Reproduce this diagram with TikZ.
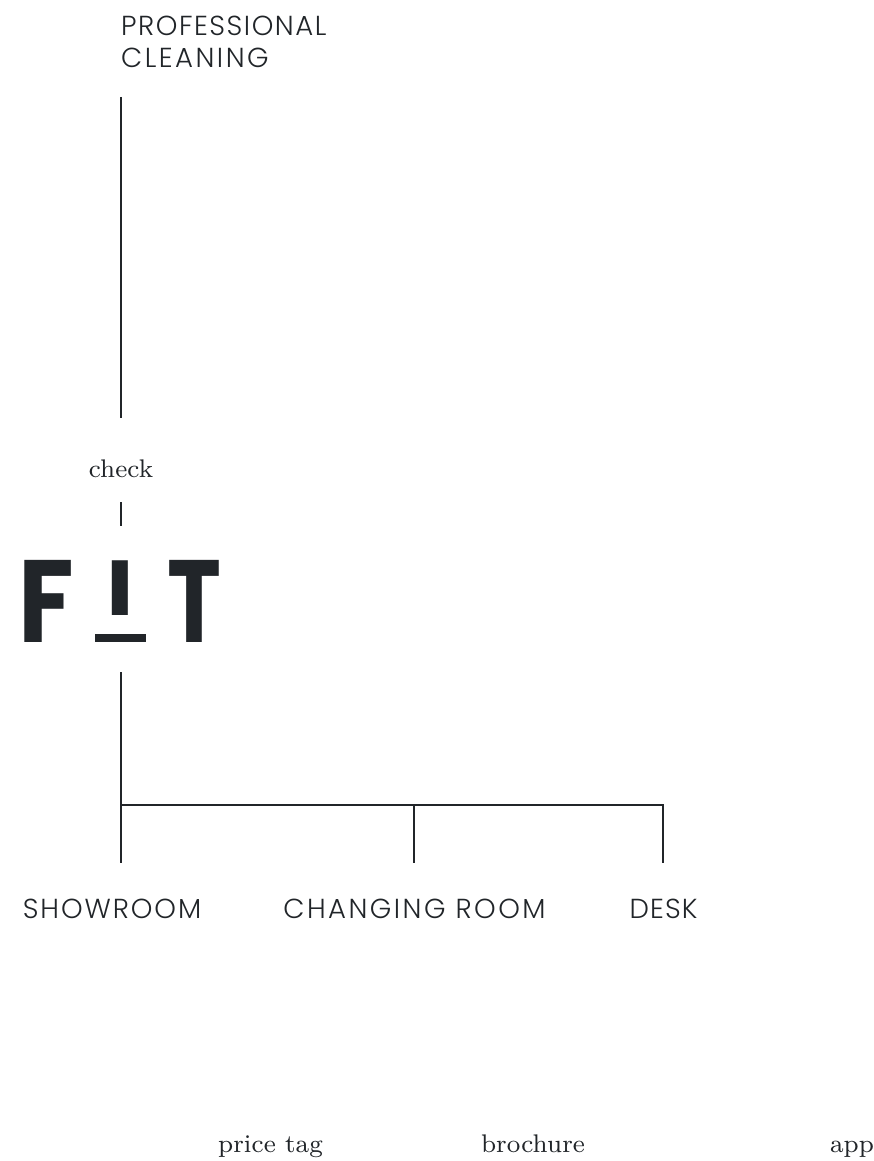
\documentclass[tikz,border=0pt]{standalone}
\usepackage{fontspec}
\newfontfamily\capsfont[UprightFont=* Light]{Poppins}
\newfontfamily\logofont[UprightFont=* Bold]{Poppins}
\newfontfamily\seriffont[LetterSpace=0.5]{[lmroman8-regular.otf]}
\definecolor{ink}{HTML}{212529}
\tikzset{
  x=1pt,y=-1pt,
  rule/.style={draw=ink,line width=2.4pt},
  capslabel/.style={inner sep=0pt,text=ink,font=\capsfont\fontsize{27.5}{32}\selectfont\addfontfeature{LetterSpace=#1}},
  seriflabel/.style={inner sep=0pt,anchor=base,text=ink,font=\seriffont\fontsize{25.5}{30}\selectfont},
  logo/.style={inner sep=0pt,anchor=base,text=ink},
}
\begin{document}
\begin{tikzpicture}
\useasboundingbox (0,0) rectangle (874,1161);
\node[capslabel=5.5,anchor=base west] (pro1) at (121,36) {PROFESSIONAL};
\node[capslabel=9,anchor=base west] (pro2) at (121,68) {CLEANING};
\node[seriflabel] (check) at (121,477) {check};
\node[logo,font=\logofont\fontsize{117}{117}\selectfont] (F) at (46.5,642) {\scalebox{.87}[1]{F}};
\node[logo,font=\logofont\fontsize{78}{78}\selectfont] (I) at (120.5,615) {\scalebox{1.2}[1]{I}};
\node[logo,font=\logofont\fontsize{117}{117}\selectfont] (T) at (194.5,642) {\scalebox{.78}[1]{T}};
\fill[ink] (95,634) rectangle (146,642);
\coordinate (a1) at (121,97);
\coordinate (a2) at (121,418);
\coordinate (b1) at (121,502);
\coordinate (b2) at (121,526);
\coordinate (c1) at (121,672);
\coordinate (c2) at (121,805);
\coordinate (c3) at (121,863);
\coordinate (d1) at (414,805);
\coordinate (d2) at (414,863);
\coordinate (e1) at (663,805);
\coordinate (e2) at (663,863);
\draw[rule] (a1) -- (a2);
\draw[rule] (b1) -- (b2);
\draw[rule] (c1) -- (c3);
\draw[rule,line join=miter] (c2) -- (e1) -- (e2);
\draw[rule] (d1) -- (d2);
\node[capslabel=7,anchor=base] (show) at (112,918) {SHOWROOM};
\node[capslabel=9,anchor=base] (chg) at (414.5,918) {CHANGING ROOM};
\node[capslabel=4,anchor=base] (desk) at (663.5,918) {DESK};
\node[seriflabel] (price) at (270.5,1152) {price tag};
\node[seriflabel] (broch) at (533,1152) {brochure};
\node[seriflabel] (app) at (852,1152) {app};
\end{tikzpicture}
\end{document}
